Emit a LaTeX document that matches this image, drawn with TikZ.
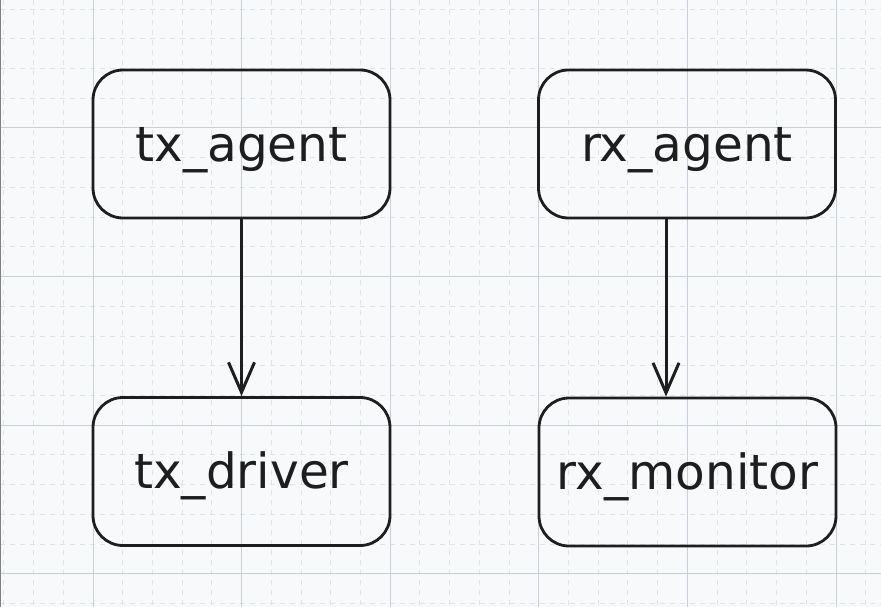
\documentclass[tikz,border=0pt]{standalone}
\usepackage{fontspec}
\setmainfont{DejaVu Sans}
\usetikzlibrary{arrows.meta, positioning}
\definecolor{paper}{RGB}{248, 249, 251}
\definecolor{majorgrid}{RGB}{200, 207, 216}
\definecolor{minorgrid}{RGB}{224, 227, 231}
\definecolor{ink}{RGB}{30, 30, 30}

\begin{document}
\begin{tikzpicture}[x=1pt, y=-1pt,
    box/.style={rectangle, rounded corners=30pt, draw=ink, line width=2.8pt,
                minimum width=297pt, minimum height=148pt, inner sep=0pt,
                text height=34pt, text depth=0pt,
                align=center, text=ink, font=\fontsize{48.5}{56}\selectfont},
    link/.style={draw=ink, line width=3pt, -{Straight Barb[length=30pt, width=26pt, line width=3pt]}}]

    % Canvas
    \useasboundingbox (0,0) rectangle (881,607);
    \fill[paper] (0,0) rectangle (881,607);
    \foreach \x in {3.84,33.56,...,881} \draw[minorgrid, line width=1pt, dash pattern=on 5pt off 5pt] (\x,0) -- (\x,607);
    \foreach \y in {9.1,38.82,...,607} \draw[minorgrid, line width=1pt, dash pattern=on 5pt off 5pt] (0,\y) -- (881,\y);
    \foreach \x in {93,241.6,...,881} \draw[majorgrid, line width=1pt] (\x,0) -- (\x,607);
    \foreach \y in {128,276.6,...,607} \draw[majorgrid, line width=1pt] (0,\y) -- (881,\y);
    \draw[gray, line width=1pt] (0,607) -- (0,0) -- (881,0);

    % Agents
    \node[box] (txagent) at (241.5, 144) {tx\_agent};
    \node[box] (rxagent) at (687, 144) {rx\_agent};

    % Driver and monitor
    \node[box] (txdriver) at (241.5, 471.5) {tx\_driver};
    \node[box] (rxmonitor) at (687.5, 472) {rx\_monitor};

    % Arrows
    \draw[link] (txagent.south) -- (txdriver.north);
    \draw[link] ([xshift=-21pt]rxagent.south) -- ([xshift=-21.5pt]rxmonitor.north);
\end{tikzpicture}
\end{document}
